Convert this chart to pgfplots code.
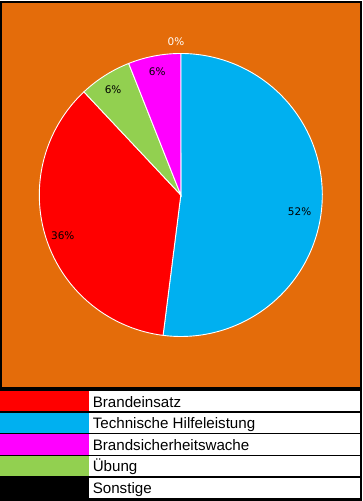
\documentclass[border=0pt]{standalone}
\usepackage{pgfplots}
\pgfplotsset{compat=1.18}
\usepackage{pgfplotstable}
\usepackage{fontspec}
\setmainfont{Liberation Sans}
\newfontfamily\labelfont{DejaVu Sans}
\definecolor{bgorange}{HTML}{E46C0A}
\definecolor{techblue}{HTML}{00B0F0}
\definecolor{brred}{HTML}{FF0000}
\definecolor{bsmag}{HTML}{FF00FF}
\definecolor{uegreen}{HTML}{92D050}

% slices clockwise from 12 o'clock: value, colour, label radius (px), label angle offset
\pgfplotstableread{
value color lr loff
26 techblue 120 -4.5
18 brred 125 1.2
3 uegreen 125 0.4
3 bsmag 126 0
0 black 153 1.8
}\piedata

\tikzset{pielabel/.style={font=\labelfont\fontsize{10.5}{12}\selectfont, inner sep=0pt}}

\begin{document}
\begin{tikzpicture}[x=1bp,y=1bp]
\path[use as bounding box, fill=white] (0,0) rectangle (362,501);
% orange chart area
\fill[bgorange] (1,113) rectangle (361,499);
\draw[black, line width=1.2bp] (1,113) rectangle (361,499);
\begin{axis}[
  at={(0,0)}, anchor=south west,
  width=362bp, height=501bp, scale only axis,
  xmin=0, xmax=362, ymin=0, ymax=501,
  hide axis, clip=false]
\def\pcx{180.8}
\def\pcy{306}
\def\pr{141.5}
\def\sStart{90}
\pgfplotsforeachungrouped \i in {0,...,4}{%
  \pgfplotstablegetelem{\i}{value}\of\piedata \pgfmathsetmacro\sVal{\pgfplotsretval}%
  \pgfplotstablegetelem{\i}{color}\of\piedata \edef\sCol{\pgfplotsretval}%
  \pgfplotstablegetelem{\i}{lr}\of\piedata \edef\sLr{\pgfplotsretval}%
  \pgfplotstablegetelem{\i}{loff}\of\piedata \edef\sLo{\pgfplotsretval}%
  \pgfmathsetmacro\sEnd{\sStart-\sVal/50*360}%
  \pgfmathsetmacro\sMid{(\sStart+\sEnd)/2+\sLo}%
  \pgfmathsetmacro\sLx{\pcx+\sLr*cos(\sMid)}%
  \pgfmathsetmacro\sLy{\pcy+\sLr*sin(\sMid)}%
  \pgfmathtruncatemacro\sPct{round(\sVal/50*100)}%
  \ifdim\sVal pt>0pt
    \edef\cmd{\noexpand\addplot[fill=\sCol,draw=white,line width=0.9bp,domain=\sEnd:\sStart,samples=120] ({\pcx+\pr*cos(x)},{\pcy+\pr*sin(x)}) -- (\pcx,\pcy) -- cycle;}\cmd
    \edef\cmd{\noexpand\node[pielabel,text=black] at (\sLx,\sLy) {\sPct\noexpand\%};}\cmd
  \else
    \edef\cmd{\noexpand\node[pielabel,text=white] at (\sLx,\sLy) {\sPct\noexpand\%};}\cmd
  \fi
  \global\let\sStart\sEnd
}
\end{axis}
% legend table
\fill[black] (0,0) rectangle (362,114);
\foreach \col/\txt [count=\i from 0] in {brred/Brandeinsatz, techblue/Technische Hilfeleistung, bsmag/Brandsicherheitswache, uegreen/Übung, black/Sonstige}{
  \pgfmathsetmacro\yt{501-390.8-21.8*\i}
  \pgfmathsetmacro\yb{\yt-20.2}
  \fill[\col] (0,\yb) rectangle (88.5,\yt);
  \fill[white] (88.5,\yb) rectangle (359.5,\yt);
  \node[anchor=base west, font=\fontsize{15.2}{18}\selectfont, inner sep=0pt] at (92.6,{501-407.5-21.5*\i}) {\txt};
}
\end{tikzpicture}
\end{document}
